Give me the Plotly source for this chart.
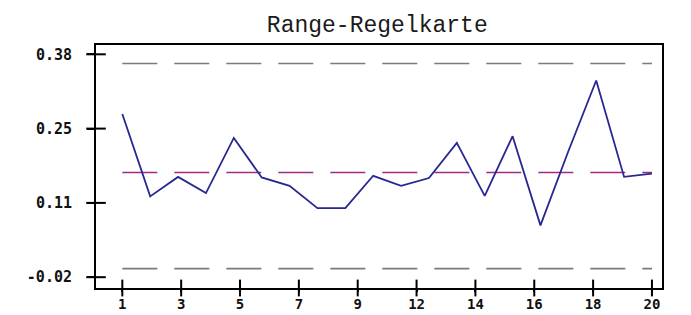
import numpy as np
import plotly.graph_objects as go

# ---- data ----
samples = list(range(1, 21))
ranges = [0.273, 0.125, 0.160, 0.131, 0.230, 0.159, 0.144, 0.104, 0.104, 0.162,
          0.144, 0.158, 0.221, 0.126, 0.233, 0.073, 0.206, 0.333, 0.160, 0.166]
center_line = 0.168
upper_limit = 0.3635
lower_limit = -0.0046
x_tick_labels = ["1", "3", "5", "7", "9", "12", "14", "16", "18", "20"]
y_tick_labels = ["-0.02", "0.11", "0.25", "0.38"]
title_text = "Range-Regelkarte"

x_ticks = np.linspace(1, 20, len(x_tick_labels))
y_ticks = np.linspace(-0.02, 0.38, len(y_tick_labels))
x_range = [0.056, 20.36]
y_range = [-0.0394, 0.3967]

fig = go.Figure()

xs = [samples[0], samples[-1]]
for val, col in [(upper_limit, "#7a7a7a"), (lower_limit, "#7a7a7a"), (center_line, "#a02890")]:
    fig.add_trace(go.Scatter(x=xs, y=[val, val], mode="lines",
                             line=dict(color=col, width=1.6, dash="35px,17px"),
                             hoverinfo="skip", showlegend=False))

fig.add_trace(go.Scatter(x=samples, y=ranges, mode="lines",
                         line=dict(color="#27278f", width=1.8),
                         showlegend=False))

# crossing tick marks (drawn at the axis positions)
fig.add_trace(go.Scatter(x=x_ticks, y=[y_range[0]] * len(x_ticks), mode="markers",
                         marker=dict(symbol="line-ns", size=12, color="black",
                                     line=dict(color="black", width=2)),
                         cliponaxis=False, hoverinfo="skip", showlegend=False))
fig.add_trace(go.Scatter(x=[x_range[0]] * len(y_ticks), y=y_ticks, mode="markers",
                         marker=dict(symbol="line-ew", size=14, color="black",
                                     line=dict(color="black", width=2)),
                         cliponaxis=False, hoverinfo="skip", showlegend=False))

tick_font = dict(family="DejaVu Sans Mono", size=15, color="#111111", weight="bold")
x_tick_font = dict(family="DejaVu Sans Mono", size=14, color="#111111", weight="bold")

fig.update_layout(
    width=691, height=315,
    margin=dict(l=96, r=29, t=45, b=27),
    paper_bgcolor="white", plot_bgcolor="white",
    title=dict(text=title_text, x=0.546, xanchor="center", y=0.925, yanchor="middle",
               font=dict(family="Liberation Mono", size=23, color="#1a1a1a")),
    xaxis=dict(range=x_range, tickvals=x_ticks, ticktext=x_tick_labels,
               showgrid=False, zeroline=False, showline=True, linecolor="black",
               linewidth=2, mirror=True, ticks="outside", ticklen=2, tickwidth=2,
               tickcolor="black", tickfont=x_tick_font, ticklabelstandoff=0,
               automargin=False),
    yaxis=dict(range=y_range, tickvals=y_ticks, ticktext=y_tick_labels,
               showgrid=False, zeroline=False, showline=True, linecolor="black",
               linewidth=2, mirror=True, ticks="outside", ticklen=7, tickwidth=2,
               tickcolor="black", tickfont=tick_font, ticklabelstandoff=12,
               automargin=False),
)

fig.write_html("out.html", config={"displayModeBar": False},
               post_script="document.body.style.margin='0';document.body.style.overflow='hidden';")
